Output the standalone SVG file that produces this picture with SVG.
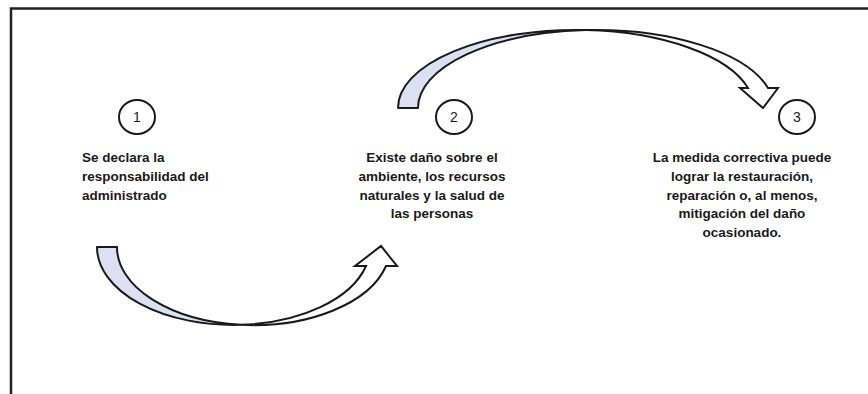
<svg xmlns="http://www.w3.org/2000/svg" width="868" height="394" viewBox="0 0 868 394">
<style>
.t{font-family:"Liberation Sans",Arial,sans-serif;font-weight:bold;font-size:13.5px;fill:#1a1a1a}
.n{font-family:"Liberation Sans",Arial,sans-serif;font-size:14px;fill:#1a1a1a;text-anchor:middle}
.c{fill:#fff;stroke:#1a1a1a;stroke-width:2}
.back{fill:#dde0f2;stroke:#1a1a1a;stroke-width:2;stroke-linejoin:round}
.front{fill:#fff;stroke:#1a1a1a;stroke-width:2;stroke-linejoin:miter}
</style>
<rect width="868" height="394" fill="#fff"/>
<path d="M11,394 V8.5 H868" fill="none" stroke="#222" stroke-width="2.5"/>
<g id="connectors">
<g id="arrow1">
<path class="back" d="M97,247 A136.5,78 0 0 0 241,324.8 A136.5,78 0 0 1 117,247 Z"/>
<path class="front" d="M241,324.8 A136.5,78 0 0 0 386,266 L397,266 L381,246 L355,266 L366,266 A136.5,78 0 0 1 241,324.8 Z"/>
</g>
<g id="arrow2">
<path class="back" d="M398,108 A178,78 0 0 1 586,30.1 A178,78 0 0 0 418,108 Z"/>
<path class="front" d="M586,30.1 A178,78 0 0 1 768,88 L778,88 L763,108 L740,88 L748,88 A178,78 0 0 0 586,30.1 Z"/>
</g>
</g>
<g id="node1">
<ellipse class="c" cx="137" cy="117" rx="18" ry="17"/>
<text class="n" x="137" y="122">1</text>
<text class="t" x="82" y="162">Se declara la</text>
<text class="t" x="82" y="181">responsabilidad del</text>
<text class="t" x="82" y="200">administrado</text>
</g>
<g id="node2">
<ellipse class="c" cx="454" cy="117" rx="18" ry="17"/>
<text class="n" x="454" y="122">2</text>
<text class="t" text-anchor="middle" x="432" y="162">Existe daño sobre el</text>
<text class="t" text-anchor="middle" x="432" y="181">ambiente, los recursos</text>
<text class="t" text-anchor="middle" x="432" y="200">naturales y la salud de</text>
<text class="t" text-anchor="middle" x="432" y="218">las personas</text>
</g>
<g id="node3">
<ellipse class="c" cx="797" cy="117" rx="18" ry="17"/>
<text class="n" x="797" y="122">3</text>
<text class="t" text-anchor="middle" x="742" y="162">La medida correctiva puede</text>
<text class="t" text-anchor="middle" x="742" y="181">lograr la restauración,</text>
<text class="t" text-anchor="middle" x="742" y="200">reparación o, al menos,</text>
<text class="t" text-anchor="middle" x="742" y="218">mitigación del daño</text>
<text class="t" text-anchor="middle" x="742" y="237">ocasionado.</text>
</g>
</svg>
